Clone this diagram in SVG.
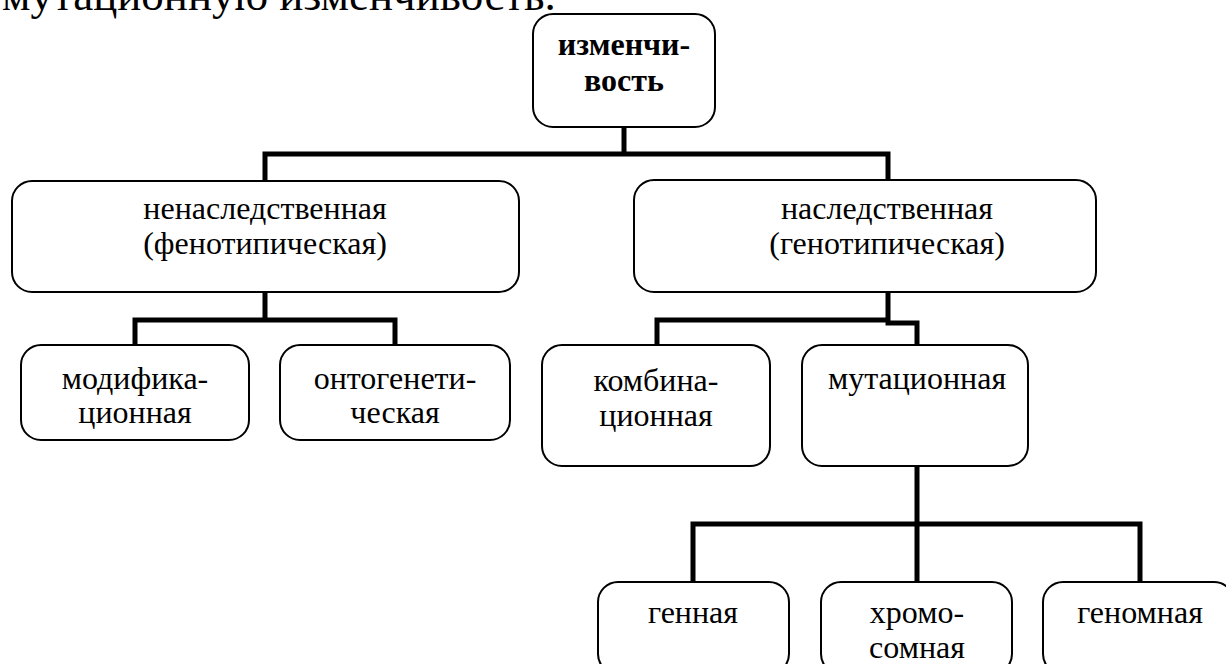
<svg xmlns="http://www.w3.org/2000/svg" width="1226" height="664" viewBox="0 0 1226 664">
  <style>
    .box { fill: #ffffff; stroke: #000000; stroke-width: 2; }
    .lbl { font-family: "Liberation Serif", "Times New Roman", serif; font-size: 32px; fill: #000000; text-anchor: middle; }
    .bold { font-weight: bold; }
    .link { fill: none; stroke: #000000; stroke-width: 5; stroke-linejoin: miter; stroke-linecap: square; }
  </style>
  <rect width="1226" height="664" fill="#ffffff"/>

  <!-- running text line above the scheme -->
  <text x="2" y="10" font-family="Liberation Serif, Times New Roman, serif" font-size="45" fill="#000">мутационную изменчивость.</text>

  <!-- connectors -->
  <g id="connectors">
    <path class="link" d="M624,127 V154 M265,154 H888 M265,154 V181 M888,154 V180"/>
    <path class="link" d="M265,292 V320 M135,320 H395 M135,320 V345 M395,320 V345"/>
    <path class="link" d="M888,292 V323 M657,320 H888 M888,323 H917 V345 M657,320 V345"/>
    <path class="link" d="M917,466 V524 M693,524 H1140 M693,524 V582 M917,524 V582 M1140,524 V582"/>
  </g>

  <g id="root">
    <rect class="box" x="533" y="14" width="182" height="113" rx="20"/>
    <text class="lbl bold" x="624" y="55">изменчи-</text>
    <text class="lbl bold" x="624" y="91">вость</text>
  </g>

  <g id="nonhereditary">
    <rect class="box" x="12" y="181" width="507" height="111" rx="20"/>
    <text class="lbl" x="265" y="219">ненаследственная</text>
    <text class="lbl" x="265" y="254">(фенотипическая)</text>
  </g>

  <g id="hereditary">
    <rect class="box" x="634" y="180" width="462" height="112" rx="20"/>
    <text class="lbl" x="887" y="219">наследственная</text>
    <text class="lbl" x="887" y="254">(генотипическая)</text>
  </g>

  <g id="modification">
    <rect class="box" x="21" y="345" width="228" height="95" rx="20"/>
    <text class="lbl" x="135" y="389">модифика-</text>
    <text class="lbl" x="135" y="423">ционная</text>
  </g>

  <g id="ontogenetic">
    <rect class="box" x="280" y="345" width="230" height="95" rx="20"/>
    <text class="lbl" x="395" y="389">онтогенети-</text>
    <text class="lbl" x="395" y="423">ческая</text>
  </g>

  <g id="combinative">
    <rect class="box" x="542" y="345" width="228" height="121" rx="20"/>
    <text class="lbl" x="656" y="391">комбина-</text>
    <text class="lbl" x="656" y="426">ционная</text>
  </g>

  <g id="mutational">
    <rect class="box" x="802" y="345" width="226" height="121" rx="20"/>
    <text class="lbl" x="917" y="389">мутационная</text>
  </g>

  <g id="gene">
    <rect class="box" x="598" y="582" width="191" height="92" rx="20"/>
    <text class="lbl" x="693" y="623">генная</text>
  </g>

  <g id="chromosomal">
    <rect class="box" x="821" y="582" width="191" height="92" rx="20"/>
    <text class="lbl" x="917" y="623">хромо-</text>
    <text class="lbl" x="917" y="658">сомная</text>
  </g>

  <g id="genomic">
    <rect class="box" x="1043" y="582" width="191" height="92" rx="20"/>
    <text class="lbl" x="1140" y="623">геномная</text>
  </g>
</svg>
